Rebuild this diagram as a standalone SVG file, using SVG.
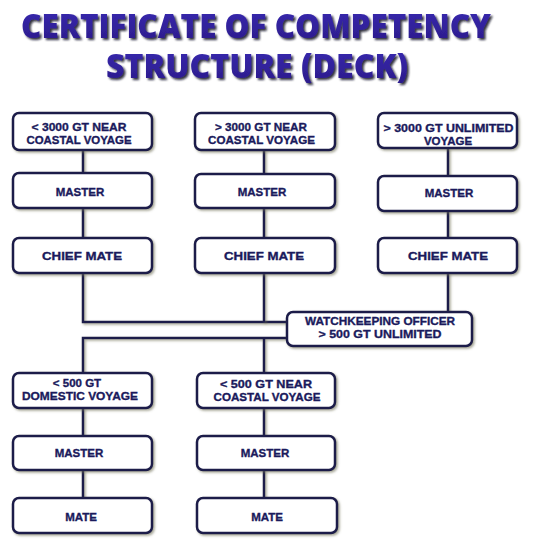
<svg xmlns="http://www.w3.org/2000/svg" width="536" height="547" viewBox="0 0 536 547">
<defs>
<filter id="tsh" filterUnits="userSpaceOnUse" x="0" y="0" width="536" height="100">
<feDropShadow dx="2" dy="2" stdDeviation="1" flood-color="#0a0a1a" flood-opacity="0.85"/>
</filter>
<filter id="bsh" filterUnits="userSpaceOnUse" x="0" y="90" width="536" height="457">
<feDropShadow dx="1.5" dy="1.5" stdDeviation="1" flood-color="#6a6a50" flood-opacity="0.6"/>
</filter>
<linearGradient id="tg" x1="0" y1="0" x2="0" y2="1">
<stop offset="0" stop-color="#3a2ab4"/>
<stop offset="1" stop-color="#2a1a86"/>
</linearGradient>
</defs>
<style>
.title{font-family:"Open Sans","Liberation Sans",Arial,sans-serif;font-weight:800;font-size:33px;fill:url(#tg);text-anchor:middle;filter:url(#tsh)}
.box{fill:#ffffff;stroke:#1c1c4a;stroke-width:2.5;filter:url(#bsh)}
.lbl{font-family:"Liberation Sans",Arial,sans-serif;font-weight:bold;font-size:11.5px;fill:#1a1a5c;text-anchor:middle;stroke:#1a1a5c;stroke-width:0.35}
.con{fill:none;stroke:#1c1c4a;stroke-width:2.5;filter:url(#bsh)}
</style>
<rect width="536" height="547" fill="#ffffff"/>
<g id="title">
<text class="title" x="256" y="38" textLength="470" lengthAdjust="spacingAndGlyphs">CERTIFICATE OF COMPETENCY</text>
<text class="title" x="257" y="78" textLength="302" lengthAdjust="spacingAndGlyphs">STRUCTURE (DECK)</text>
</g>
<g id="connectors">
<path class="con" d="M83 150V173M83 208V238M83 273V322H287"/>
<path class="con" d="M264 150V174M264 208V238M264 273V322"/>
<path class="con" d="M448 148V176M448 211V238M448 273V312"/>
<path class="con" d="M287 338H83V373M264 338V373"/>
<path class="con" d="M83 408V436M83 470V498"/>
<path class="con" d="M264 408V436M264 470V498"/>
</g>
<g id="a1"><rect class="box" x="13" y="113" width="139" height="37" rx="6"/>
<text class="lbl" x="79" y="131" textLength="95" lengthAdjust="spacingAndGlyphs">&lt; 3000 GT NEAR</text>
<text class="lbl" x="79" y="144" textLength="105" lengthAdjust="spacingAndGlyphs">COASTAL VOYAGE</text></g>
<g id="a2"><rect class="box" x="13" y="173" width="139" height="35" rx="6"/>
<text class="lbl" x="80" y="195.5">MASTER</text></g>
<g id="a3"><rect class="box" x="13" y="238" width="139" height="35" rx="6"/>
<text class="lbl" x="82" y="259.5" textLength="80" lengthAdjust="spacingAndGlyphs">CHIEF MATE</text></g>
<g id="b1"><rect class="box" x="195" y="113" width="140" height="37" rx="6"/>
<text class="lbl" x="261" y="131" textLength="92" lengthAdjust="spacingAndGlyphs">&gt; 3000 GT NEAR</text>
<text class="lbl" x="261.5" y="144" textLength="107" lengthAdjust="spacingAndGlyphs">COASTAL VOYAGE</text></g>
<g id="b2"><rect class="box" x="195" y="174" width="140" height="34" rx="6"/>
<text class="lbl" x="262" y="196">MASTER</text></g>
<g id="b3"><rect class="box" x="195" y="238" width="140" height="35" rx="6"/>
<text class="lbl" x="264" y="259.5" textLength="80" lengthAdjust="spacingAndGlyphs">CHIEF MATE</text></g>
<g id="c1"><rect class="box" x="378" y="113" width="139" height="35" rx="6"/>
<text class="lbl" x="448.5" y="132" textLength="130" lengthAdjust="spacingAndGlyphs">&gt; 3000 GT UNLIMITED</text>
<text class="lbl" x="448" y="145">VOYAGE</text></g>
<g id="c2"><rect class="box" x="378" y="176" width="139" height="35" rx="6"/>
<text class="lbl" x="449" y="197">MASTER</text></g>
<g id="c3"><rect class="box" x="378" y="238" width="139" height="35" rx="6"/>
<text class="lbl" x="448" y="259.5" textLength="80" lengthAdjust="spacingAndGlyphs">CHIEF MATE</text></g>
<g id="w"><rect class="box" x="287" y="312" width="185" height="34" rx="6"/>
<text class="lbl" x="380" y="325" textLength="150" lengthAdjust="spacingAndGlyphs">WATCHKEEPING OFFICER</text>
<text class="lbl" x="380" y="338" textLength="123" lengthAdjust="spacingAndGlyphs">&gt; 500 GT UNLIMITED</text></g>
<g id="d1"><rect class="box" x="13" y="373" width="139" height="35" rx="6"/>
<text class="lbl" x="77" y="387">&lt; 500 GT</text>
<text class="lbl" x="80" y="400" textLength="116" lengthAdjust="spacingAndGlyphs">DOMESTIC VOYAGE</text></g>
<g id="d2"><rect class="box" x="13" y="436" width="139" height="34" rx="6"/>
<text class="lbl" x="79" y="457">MASTER</text></g>
<g id="d3"><rect class="box" x="13" y="498" width="139" height="35" rx="6"/>
<text class="lbl" x="81" y="521">MATE</text></g>
<g id="e1"><rect class="box" x="197" y="373" width="138" height="35" rx="6"/>
<text class="lbl" x="266" y="388" textLength="92" lengthAdjust="spacingAndGlyphs">&lt; 500 GT  NEAR</text>
<text class="lbl" x="267" y="401" textLength="107" lengthAdjust="spacingAndGlyphs">COASTAL VOYAGE</text></g>
<g id="e2"><rect class="box" x="197" y="436" width="138" height="34" rx="6"/>
<text class="lbl" x="265" y="457">MASTER</text></g>
<g id="e3"><rect class="box" x="197" y="498" width="140" height="35" rx="6"/>
<text class="lbl" x="267" y="521">MATE</text></g>
</svg>
